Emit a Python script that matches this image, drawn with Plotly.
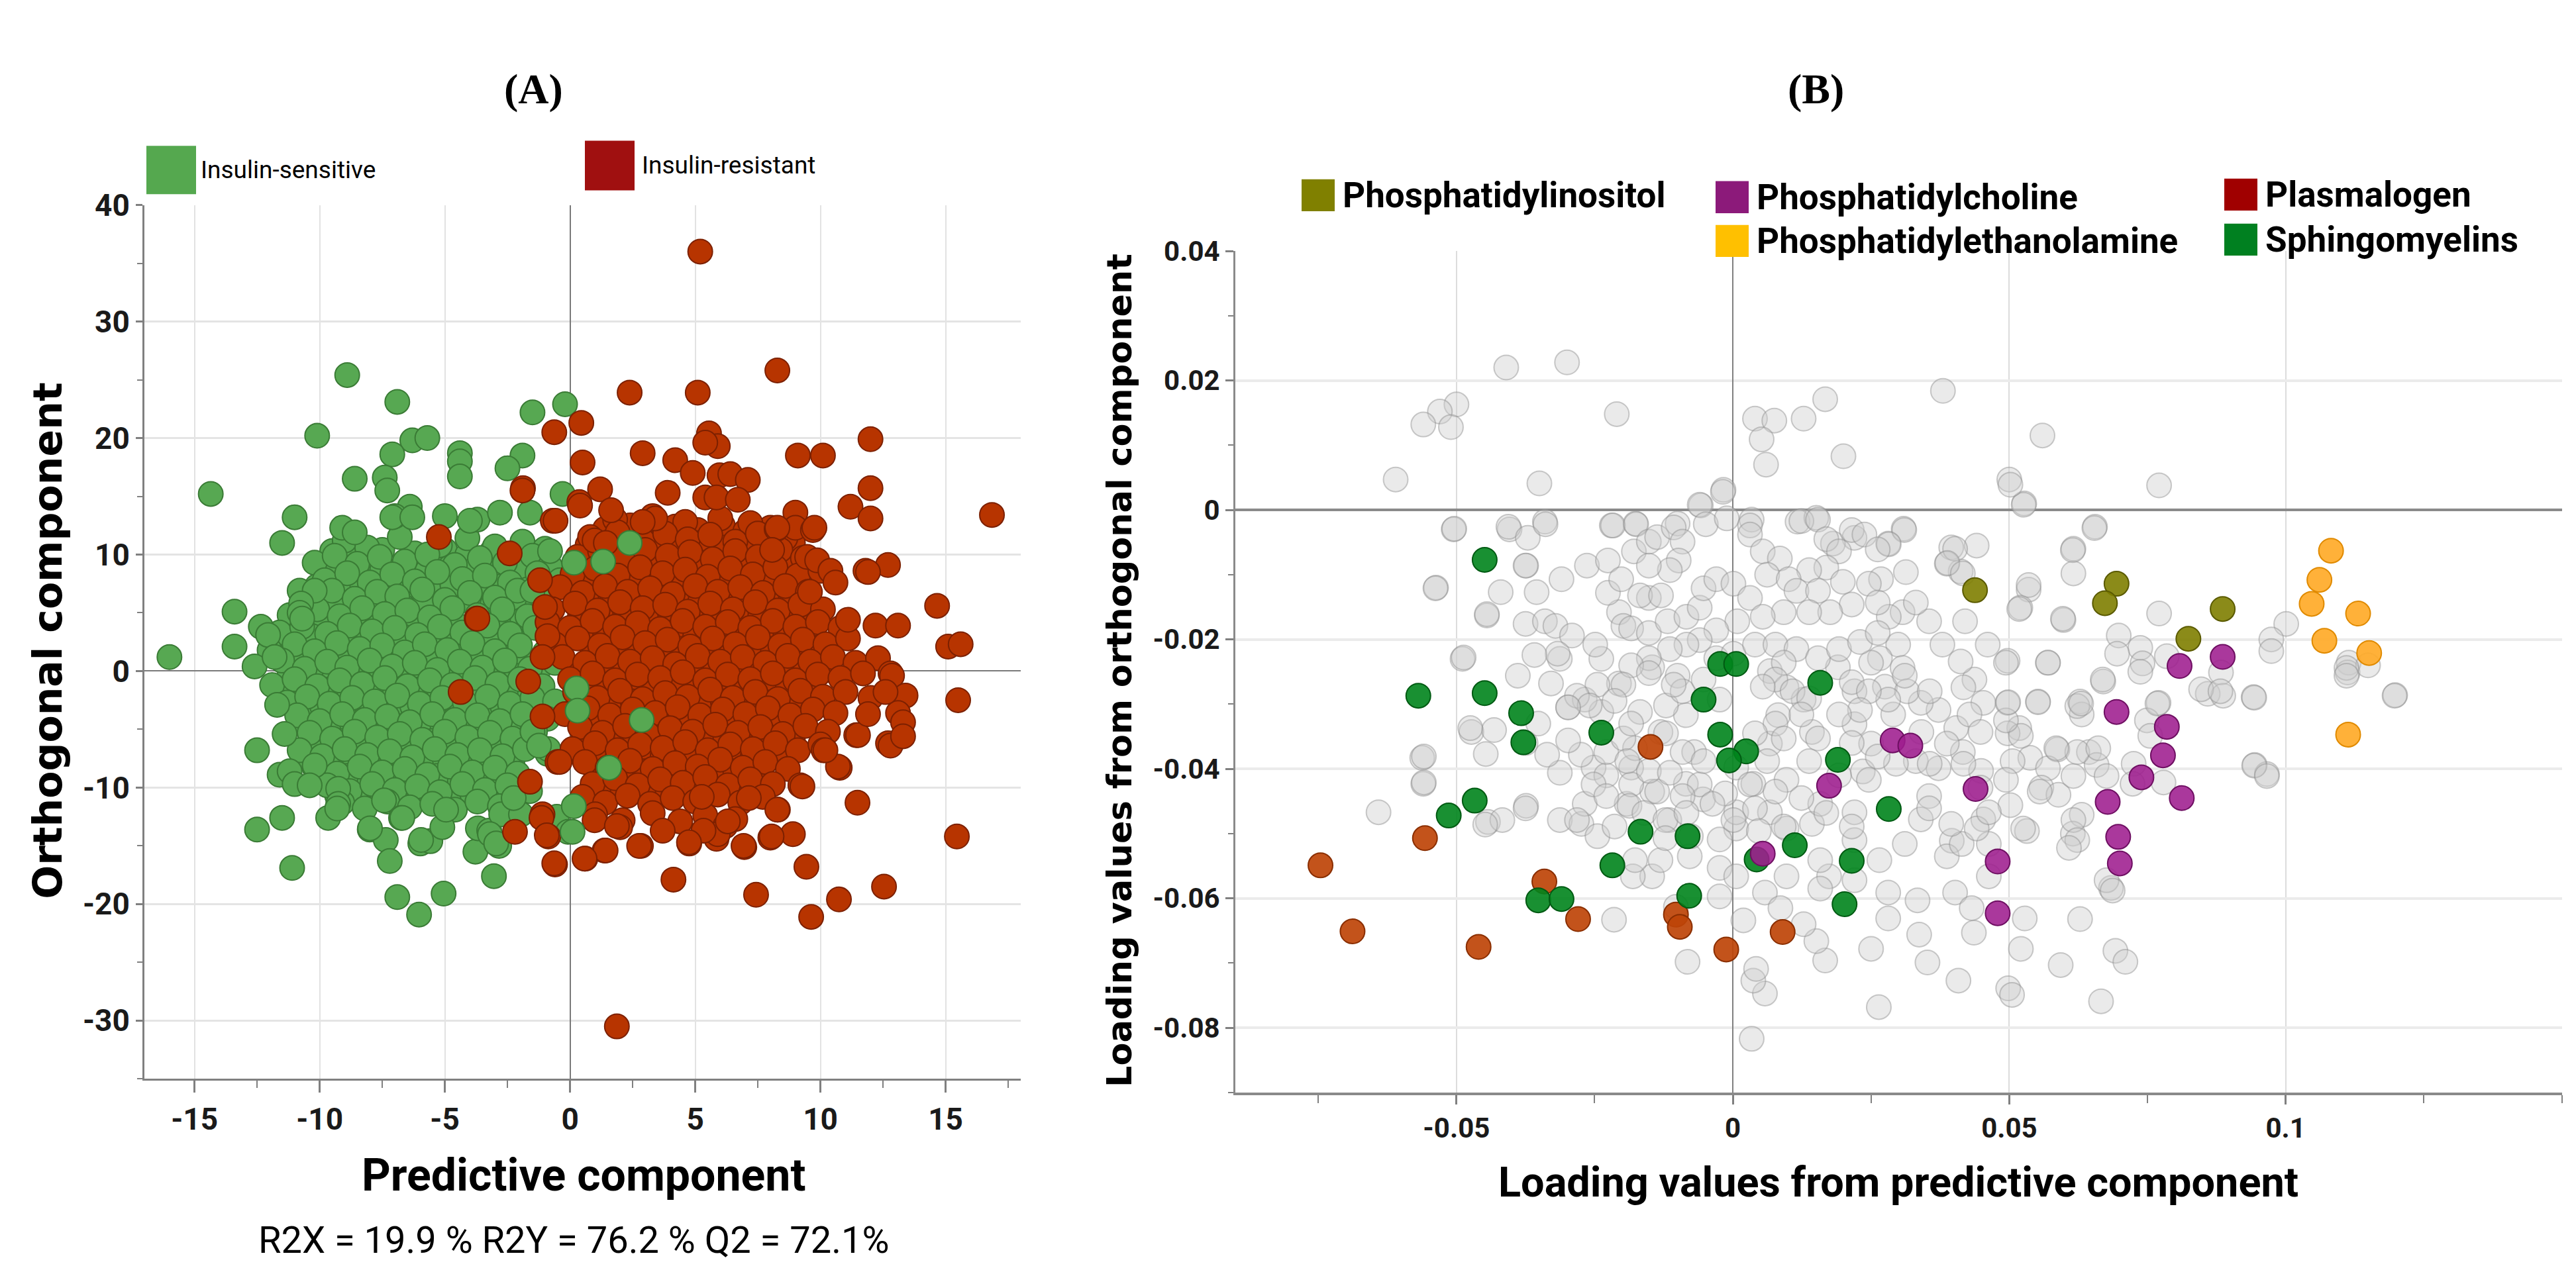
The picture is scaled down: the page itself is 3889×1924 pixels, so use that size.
import plotly.graph_objects as go

W, H = 3889, 1924

# ---------------- Panel A data (score plot) ----------------
sensitive = [
    (-9.0,11.2),(-8.1,10.6),(-6.8,11.5),(-5.2,10.8),(-4.1,11.4),(-3.0,10.7),(-1.9,11.1),(-1.0,10.5),
    (-10.2,9.3),(-9.4,9.9),(-8.5,9.2),(-7.6,9.8),(-6.6,9.4),(-5.7,10.0),(-4.6,9.1),(-3.6,9.7),(-2.6,9.3),(-1.5,9.9),(-0.8,9.0),
    (-9.8,7.8),(-8.9,8.4),(-8.0,7.6),(-7.1,8.3),(-6.2,7.7),(-5.3,8.5),(-4.3,7.9),(-3.4,8.2),(-2.4,7.6),(-1.3,8.4),(-0.4,7.8),
    (-10.6,6.3),(-9.5,6.9),(-8.6,6.2),(-7.7,6.8),(-6.9,6.4),(-5.9,7.0),(-5.0,6.1),(-4.0,6.7),(-3.0,6.3),(-2.1,6.9),(-1.1,6.2),
    (-11.2,4.8),(-10.1,5.3),(-9.2,4.7),(-8.3,5.4),(-7.4,4.9),(-6.5,5.2),(-5.6,4.6),(-4.7,5.4),(-3.7,4.8),(-2.7,5.3),(-1.7,4.7),(-0.8,5.2),
    (-11.6,3.3),(-10.7,3.8),(-9.7,3.2),(-8.8,3.9),(-7.9,3.4),(-7.0,3.7),(-6.1,3.1),(-5.2,3.8),(-4.3,3.3),(-3.3,3.9),(-2.4,3.2),(-1.4,3.7),(-0.5,3.3),
    (-12.0,1.8),(-11.0,2.3),(-10.2,1.7),(-9.3,2.4),(-8.4,1.9),(-7.5,2.2),(-6.6,1.6),(-5.8,2.3),(-4.9,1.8),(-3.9,2.4),(-3.0,1.7),(-2.0,2.2),(-1.0,1.6),
    (-12.6,0.4),(-11.5,0.9),(-10.6,0.2),(-9.7,0.8),(-8.9,0.3),(-8.0,0.9),(-7.1,0.4),(-6.2,0.7),(-5.3,0.1),(-4.4,0.8),(-3.5,0.3),(-2.6,0.9),(-1.6,0.2),(-0.6,0.7),
    (-11.9,-1.2),(-11.0,-0.7),(-10.1,-1.3),(-9.2,-0.8),(-8.3,-1.1),(-7.4,-0.6),(-6.5,-1.3),(-5.6,-0.8),(-4.7,-1.2),(-3.8,-0.6),(-2.9,-1.1),(-2.0,-0.7),(-1.1,-1.3),
    (-11.3,-2.7),(-10.5,-2.2),(-9.6,-2.8),(-8.7,-2.3),(-7.8,-2.6),(-6.9,-2.1),(-6.0,-2.8),(-5.1,-2.3),(-4.2,-2.7),(-3.3,-2.2),(-2.4,-2.8),(-1.5,-2.3),(-0.6,-2.6),
    (-10.9,-3.8),(-10.0,-4.3),(-9.1,-3.7),(-8.2,-4.2),(-7.3,-3.9),(-6.4,-4.4),(-5.5,-3.7),(-4.6,-4.2),(-3.7,-3.8),(-2.8,-4.3),(-1.9,-3.7),(-0.9,-4.1),
    (-10.4,-5.3),(-9.5,-5.8),(-8.6,-5.2),(-7.7,-5.7),(-6.8,-5.4),(-5.9,-5.9),(-5.0,-5.2),(-4.1,-5.7),(-3.2,-5.3),(-2.3,-5.8),(-1.4,-5.2),
    (-10.8,-6.8),(-9.9,-7.3),(-9.0,-6.7),(-8.1,-7.2),(-7.2,-6.9),(-6.3,-7.4),(-5.4,-6.7),(-4.5,-7.2),(-3.6,-6.8),(-2.7,-7.3),(-1.8,-6.7),(-0.9,-7.1),
    (-10.2,-8.3),(-9.3,-8.8),(-8.4,-8.2),(-7.5,-8.7),(-6.6,-8.4),(-5.7,-8.9),(-4.8,-8.2),(-3.9,-8.7),(-3.0,-8.3),(-2.1,-8.8),
    (-9.7,-9.8),(-8.8,-10.3),(-7.9,-9.7),(-7.0,-10.2),(-6.1,-9.9),(-5.2,-10.4),(-4.3,-9.7),(-3.4,-10.2),(-2.5,-9.8),(-1.6,-10.3),
    (-9.1,-11.3),(-8.2,-11.8),(-7.3,-11.2),(-6.4,-11.7),(-5.5,-11.4),(-4.6,-11.9),(-3.7,-11.2),(-2.8,-11.6),
    # outer points
    (-8.9,25.4),(-6.9,23.1),(-10.1,20.2),(-6.3,19.8),(-5.7,20.0),(-1.5,22.2),(-0.2,22.9),(-4.4,18.7),(-4.4,18.0),(-4.4,16.7),
    (-7.1,18.6),(-1.9,18.5),(-2.5,17.4),(-8.6,16.5),(-7.4,16.6),(-7.3,15.5),(-14.35,15.2),(-11.0,13.2),(-11.5,11.0),(-0.3,15.2),
    (-6.4,14.1),(-7.0,13.3),(-7.1,13.2),(-6.3,13.2),(-5.0,13.3),(-3.7,13.0),(-2.8,13.6),(-1.6,13.6),(-9.1,12.3),(-8.6,11.9),
    (-4.0,12.9),(-0.8,10.3),(-1.5,6.9),(-13.4,5.1),(-13.4,2.1),(-12.35,3.8),(-12.06,3.1),(-11.8,1.2),(-16.0,1.2),(-10.8,6.9),
    (-10.2,6.9),(-10.74,5.8),(-10.8,5.0),(-10.7,4.5),
    (-11.7,-2.9),(-11.4,-5.4),(-12.5,-6.8),(-11.6,-8.9),(-11.2,-8.6),(-11.0,-9.7),(-10.2,-8.1),(-10.4,-9.8),(-11.5,-12.6),
    (-12.5,-13.6),(-11.1,-16.9),(-9.66,-12.6),(-9.26,-10.1),(-9.26,-11.4),(-9.3,-11.8),(-8.0,-13.6),(-7.36,-14.5),(-7.2,-16.3),
    (-7.43,-11.1),(-6.75,-12.6),(-6.9,-19.4),(-6.03,-20.9),(-5.05,-19.1),(-5.98,-14.8),(-5.58,-14.6),(-5.1,-13.4),(-4.95,-11.9),
    (-3.78,-15.5),(-3.04,-17.6),(-3.68,-13.5),(-3.23,-13.7),(-2.83,-15.0),(-2.75,-12.3),(-1.96,-12.3),(-2.25,-10.9),(-0.87,-6.7),
    (-1.5,-5.2),(-0.53,-12.5),(-0.08,-13.8),(-1.24,-6.4),(-7.99,-13.5),(-6.7,-12.6),(-5.95,-14.5),(-3.2,-14.0),(-2.95,-14.8),
]
sensitive_inner = [
    (-9.5,10.3),(-8.6,10.0),(-7.5,10.4),(-6.2,10.1),(-5.0,10.4),(-4.1,10.0),(-3.1,10.3),(-2.1,9.9),(-1.2,10.2),
    (-9.3,8.6),(-8.4,9.0),(-7.5,8.7),(-6.6,9.0),(-5.7,8.6),(-4.8,8.9),(-3.9,8.6),(-2.9,9.0),(-1.9,8.7),
    (-10.1,7.3),(-9.2,7.0),(-8.3,7.4),(-7.4,7.1),(-6.5,7.3),(-5.6,7.0),(-4.7,7.4),(-3.7,7.1),(-2.7,7.3),(-1.7,7.0),
    (-10.3,5.6),(-9.4,6.0),(-8.5,5.7),(-7.6,6.0),(-6.7,5.6),(-5.8,5.9),(-4.9,5.6),(-4.0,6.0),(-3.1,5.7),(-2.2,6.0),(-1.3,5.6),
    (-11.0,4.3),(-10.0,4.0),(-9.1,4.4),(-8.2,4.1),(-7.3,4.3),(-6.4,4.0),(-5.5,4.4),(-4.6,4.1),(-3.7,4.3),(-2.8,4.0),(-1.9,4.4),
    (-11.2,2.7),(-10.3,3.0),(-9.4,2.6),(-8.5,2.9),(-7.6,2.7),(-6.7,3.0),(-5.8,2.6),(-4.9,2.9),(-4.0,2.7),(-3.1,3.0),(-2.1,2.6),
    (-11.8,1.3),(-10.9,1.0),(-10.0,1.4),(-9.1,1.1),(-8.2,1.3),(-7.3,1.0),(-6.4,1.4),(-5.5,1.1),(-4.6,1.3),(-3.7,1.0),(-2.8,1.4),(-1.8,1.1),
    (-11.2,-0.3),(-10.3,0.0),(-9.4,-0.4),(-8.5,-0.1),(-7.6,-0.3),(-6.7,0.0),(-5.8,-0.4),(-4.9,-0.1),(-4.0,-0.3),(-3.1,0.0),(-2.2,-0.4),(-1.3,-0.1),
    (-11.5,-1.7),(-10.6,-2.0),(-9.7,-1.6),(-8.8,-1.9),(-7.9,-1.7),(-7.0,-2.0),(-6.1,-1.6),(-5.2,-1.9),(-4.3,-1.7),(-3.4,-2.0),(-2.5,-1.6),(-1.6,-1.9),
    (-10.8,-3.3),(-9.9,-3.0),(-9.0,-3.4),(-8.1,-3.1),(-7.2,-3.3),(-6.3,-3.0),(-5.4,-3.4),(-4.5,-3.1),(-3.6,-3.3),(-2.7,-3.0),(-1.8,-3.4),
    (-10.5,-4.7),(-9.6,-5.0),(-8.7,-4.6),(-7.8,-4.9),(-6.9,-4.7),(-6.0,-5.0),(-5.1,-4.6),(-4.2,-4.9),(-3.3,-4.7),(-2.4,-5.0),(-1.5,-4.6),
    (-10.0,-6.3),(-9.1,-6.0),(-8.2,-6.4),(-7.3,-6.1),(-6.4,-6.3),(-5.5,-6.0),(-4.6,-6.4),(-3.7,-6.1),(-2.8,-6.3),(-1.9,-6.0),
    (-10.4,-7.7),(-9.5,-8.0),(-8.6,-7.6),(-7.7,-7.9),(-6.8,-7.7),(-5.9,-8.0),(-5.0,-7.6),(-4.1,-7.9),(-3.2,-7.7),(-2.3,-8.0),
    (-9.8,-9.3),(-8.9,-9.0),(-8.0,-9.4),(-7.1,-9.1),(-6.2,-9.3),(-5.3,-9.0),(-4.4,-9.4),(-3.5,-9.1),(-2.6,-9.3),
    (-9.3,-10.7),(-8.4,-11.0),(-7.5,-10.6),(-6.6,-10.9),(-5.7,-10.7),(-4.8,-11.0),(-3.9,-10.6),(-3.0,-10.9),(-2.1,-10.7),
]
sensitive_top = [(2.38,11.0),(1.32,9.4),(0.16,9.3),(2.86,-4.2),(1.56,-8.3),(0.26,-1.5),(0.3,-3.4),(0.1,-13.8),(0.15,-11.6)]

resistant = [
    (1.8,13.0),(3.3,13.3),(4.6,12.8),(6.0,13.1),(7.2,12.7),
    (0.8,11.5),(1.9,11.9),(2.9,11.2),(3.8,11.8),(4.7,11.3),(5.6,11.7),(6.6,11.1),(7.5,11.8),(8.6,11.4),
    (0.3,9.8),(1.2,10.3),(2.1,9.7),(3.0,10.4),(3.9,9.9),(4.8,10.2),(5.7,9.6),(6.6,10.3),(7.5,9.8),(8.4,10.4),(9.3,9.7),
    (0.1,8.3),(1.0,8.8),(1.9,8.2),(2.8,8.9),(3.7,8.4),(4.6,8.7),(5.5,8.1),(6.4,8.8),(7.3,8.3),(8.2,8.9),(9.1,8.2),(10.0,8.6),
    (-0.4,7.2),(0.5,6.7),(1.4,7.3),(2.3,6.8),(3.2,7.1),(4.1,6.6),(5.0,7.3),(5.9,6.8),(6.8,7.2),(7.7,6.7),(8.6,7.3),(9.5,6.8),
    (-0.7,5.3),(0.2,5.8),(1.1,5.2),(2.0,5.9),(2.9,5.4),(3.8,5.7),(4.7,5.1),(5.6,5.8),(6.5,5.3),(7.4,5.9),(8.3,5.2),(9.2,5.7),(10.1,5.3),
    (-0.9,4.2),(0.0,3.7),(0.9,4.3),(1.8,3.8),(2.7,4.1),(3.6,3.6),(4.5,4.3),(5.4,3.8),(6.3,4.2),(7.2,3.7),(8.1,4.3),(9.0,3.8),(9.9,4.2),(10.8,3.7),
    (-0.6,2.3),(0.3,2.8),(1.2,2.2),(2.1,2.9),(3.0,2.4),(3.9,2.7),(4.8,2.1),(5.7,2.8),(6.6,2.3),(7.5,2.9),(8.4,2.2),(9.3,2.7),(10.2,2.3),(11.1,2.8),
    (-0.3,1.2),(0.6,0.7),(1.5,1.3),(2.4,0.8),(3.3,1.1),(4.2,0.6),(5.1,1.3),(6.0,0.8),(6.9,1.2),(7.8,0.7),(8.7,1.3),(9.6,0.8),(10.5,1.2),(11.4,0.7),(12.3,1.1),
    (0.0,-0.7),(0.9,-0.2),(1.8,-0.8),(2.7,-0.3),(3.6,-0.6),(4.5,-0.1),(5.4,-0.8),(6.3,-0.3),(7.2,-0.7),(8.1,-0.2),(9.0,-0.8),(9.9,-0.3),(10.8,-0.6),(11.7,-0.2),
    (0.2,-1.8),(1.1,-2.3),(2.0,-1.7),(2.9,-2.4),(3.8,-1.9),(4.7,-2.2),(5.6,-1.6),(6.5,-2.3),(7.4,-1.8),(8.3,-2.4),(9.2,-1.7),(10.1,-2.2),(11.0,-1.8),(12.0,-2.3),
    (-0.2,-3.7),(0.7,-3.2),(1.6,-3.8),(2.5,-3.3),(3.4,-3.6),(4.3,-3.1),(5.2,-3.8),(6.1,-3.3),(7.0,-3.7),(7.9,-3.2),(8.8,-3.8),(9.7,-3.3),(10.6,-3.6),
    (0.4,-4.8),(1.3,-5.3),(2.2,-4.7),(3.1,-5.4),(4.0,-4.9),(4.9,-5.2),(5.8,-4.6),(6.7,-5.3),(7.6,-4.8),(8.5,-5.4),(9.4,-4.7),(10.3,-5.2),
    (0.1,-6.7),(1.0,-6.2),(1.9,-6.8),(2.8,-6.3),(3.7,-6.6),(4.6,-6.1),(5.5,-6.8),(6.4,-6.3),(7.3,-6.7),(8.2,-6.2),(9.1,-6.8),(10.0,-6.3),
    (0.6,-7.8),(1.5,-8.3),(2.4,-7.7),(3.3,-8.4),(4.2,-7.9),(5.1,-8.2),(6.0,-7.6),(6.9,-8.3),(7.8,-7.8),(8.7,-8.4),
    (0.9,-9.7),(1.8,-9.2),(2.7,-9.8),(3.6,-9.3),(4.5,-9.6),(5.4,-9.1),(6.3,-9.8),(7.2,-9.3),(8.1,-9.7),
    (0.5,-10.8),(1.4,-11.3),(2.3,-10.7),(3.2,-11.4),(4.1,-10.9),(5.0,-11.2),(5.9,-10.6),(6.8,-11.3),(7.7,-10.8),
    (1.0,-12.3),(2.1,-12.8),(3.3,-12.2),(4.4,-12.9),(5.4,-12.4),(6.6,-12.7),
    # outer points
    (5.2,36.0),(8.28,25.8),(2.38,23.9),(5.1,23.9),(-0.63,20.5),(0.45,21.3),(5.55,20.4),(5.9,19.3),(5.4,19.6),(12.0,19.9),
    (2.9,18.7),(9.1,18.5),(10.1,18.5),(4.2,18.1),(0.5,17.9),(4.9,17.0),(5.97,16.8),(6.4,16.9),(7.1,16.4),(12.0,15.7),
    (1.2,15.6),(3.9,15.3),(-1.88,15.7),(-1.9,15.5),(0.37,14.5),(1.64,13.8),(5.4,14.9),(5.85,14.9),(6.7,14.7),(0.4,14.2),
    (11.2,14.1),(12.0,13.1),(16.85,13.4),(-0.69,12.9),(-0.58,12.9),(9.0,13.6),(9.0,12.3),(9.7,12.1),(8.25,12.2),(9.76,12.3),
    (8.28,12.3),(3.4,13.1),(2.9,12.8),(0.98,11.2),(1.43,11.0),(8.07,10.4),(9.47,9.8),(9.87,9.5),(10.4,8.6),(10.6,7.6),
    (11.8,8.6),(12.7,9.1),(11.9,8.5),(9.58,6.8),(14.66,5.6),(15.1,2.1),(15.6,2.3),(11.1,4.4),(12.2,3.9),(13.1,3.9),
    (12.8,-0.2),(12.86,-0.4),(13.4,-2.1),(15.5,-2.5),(13.1,-3.6),(13.3,-4.4),(12.6,-1.8),(12.7,-6.2),(12.8,-6.4),(13.3,-5.6),
    (11.43,-5.5),(11.5,-5.5),(11.9,-3.7),(10.77,-8.3),(10.13,-6.8),(10.7,-8.2),(10.2,-6.8),(9.2,-9.8),(9.28,-9.9),(11.48,-11.3),
    (8.3,-11.9),(8.28,-11.9),(8.9,-14.0),(8.0,-14.3),(8.05,-14.2),(6.96,-15.1),(6.93,-15.0),(9.44,-16.8),(15.45,-14.2),(12.54,-18.5),
    (10.74,-19.6),(9.63,-21.1),(7.43,-19.2),(4.13,-17.9),(4.76,-14.8),(2.83,-15.0),(5.85,-14.4),(0.61,-16.1),(1.38,-15.4),(2.0,-13.4),
    (0.98,-12.8),(3.7,-13.7),(5.26,-10.8),(7.14,-10.9),(6.2,-13.3),(5.9,-14.0),(6.3,-12.9),(5.33,-13.7),(1.87,-13.3),(2.76,-15.0),
    (4.75,-14.7),(1.42,-15.4),(0.58,-16.1),(-0.6,-16.6),(1.87,-30.5),
    (-5.24,11.5),(-2.41,10.1),(-3.73,4.5),(-3.7,4.5),(-4.37,-1.8),(-1.67,-0.9),(-1.6,-9.5),(-1.1,-3.9),(-2.2,-13.8),(-1.1,-12.3),
    (-0.87,-14.2),(-1.14,-12.6),(-0.5,-7.8),(-0.42,-7.8),(-0.63,-16.5),(-0.93,-14.1),(-1.2,7.8),(-1.0,5.5),(-0.9,3.0),(-1.1,1.2),
]
resistant_inner = [
    (1.4,12.2),(2.4,12.5),(3.4,12.0),(4.2,12.4),(5.1,12.1),(6.1,12.5),(7.0,12.0),(8.0,12.3),
    (0.7,10.8),(1.6,11.1),(2.5,10.6),(3.4,11.0),(4.3,10.7),(5.2,11.0),(6.1,10.6),(7.0,11.0),(7.9,10.7),(8.9,11.0),
    (0.6,9.2),(1.5,9.5),(2.4,9.0),(3.3,9.4),(4.2,9.1),(5.1,9.4),(6.0,9.0),(6.9,9.4),(7.8,9.1),(8.7,9.4),(9.6,9.0),
    (1.0,7.8),(1.8,7.5),(2.7,7.9),(3.6,7.6),(4.5,7.8),(5.4,7.5),(6.3,7.9),(7.2,7.6),(8.1,7.8),(9.0,7.5),
    (0.7,6.2),(1.6,6.0),(2.5,6.4),(3.4,6.1),(4.3,6.3),(5.2,6.0),(6.1,6.4),(7.0,6.1),(7.9,6.3),(8.8,6.0),
    (0.4,4.8),(1.3,4.5),(2.2,4.9),(3.1,4.6),(4.0,4.8),(4.9,4.5),(5.8,4.9),(6.7,4.6),(7.6,4.8),(8.5,4.5),(9.4,4.9),
    (0.5,3.2),(1.4,3.0),(2.3,3.4),(3.2,3.1),(4.1,3.3),(5.0,3.0),(5.9,3.4),(6.8,3.1),(7.7,3.3),(8.6,3.0),(9.5,3.4),
    (0.9,1.8),(1.8,1.6),(2.7,2.0),(3.6,1.7),(4.5,1.9),(5.4,1.6),(6.3,2.0),(7.2,1.7),(8.1,1.9),(9.0,1.6),(9.9,2.0),
    (0.4,0.2),(1.3,0.0),(2.2,0.4),(3.1,0.1),(4.0,0.3),(4.9,0.0),(5.8,0.4),(6.7,0.1),(7.6,0.3),(8.5,0.0),(9.4,0.4),(10.3,0.1),
    (0.6,-1.2),(1.5,-1.4),(2.4,-1.0),(3.3,-1.3),(4.2,-1.1),(5.1,-1.4),(6.0,-1.0),(6.9,-1.3),(7.8,-1.1),(8.7,-1.4),(9.6,-1.0),
    (0.7,-2.8),(1.6,-3.0),(2.5,-2.6),(3.4,-2.9),(4.3,-2.7),(5.2,-3.0),(6.1,-2.6),(7.0,-2.9),(7.9,-2.7),(8.8,-3.0),
    (0.9,-4.2),(1.8,-4.4),(2.7,-4.0),(3.6,-4.3),(4.5,-4.1),(5.4,-4.4),(6.3,-4.0),(7.2,-4.3),(8.1,-4.1),(9.0,-4.4),
    (0.8,-5.8),(1.7,-6.0),(2.6,-5.6),(3.5,-5.9),(4.4,-5.7),(5.3,-6.0),(6.2,-5.6),(7.1,-5.9),(8.0,-5.7),(8.9,-6.0),
    (1.0,-7.2),(1.9,-7.4),(2.8,-7.0),(3.7,-7.3),(4.6,-7.1),(5.5,-7.4),(6.4,-7.0),(7.3,-7.3),(8.2,-7.1),
    (1.2,-8.8),(2.1,-9.0),(3.0,-8.6),(3.9,-8.9),(4.8,-8.7),(5.7,-9.0),(6.6,-8.6),(7.5,-8.9),
    (1.2,-10.2),(2.1,-10.4),(3.0,-10.0),(3.9,-10.3),(4.8,-10.1),(5.7,-10.4),(6.6,-10.0),
]

# ---------------- Panel B data (loading plot) ----------------
other_lipids = [
    (-0.041,0.0220),(-0.030,0.0228),(-0.050,0.0163),(-0.053,0.0152),(-0.056,0.0132),(-0.051,0.0128),(-0.021,0.0148),(-0.061,0.0047),
    (-0.035,0.0041),(0.004,0.0141),(0.0075,0.0138),(0.0128,0.0141),(0.0167,0.0171),(0.0052,0.0109),(0.006,0.0070),(0.020,0.0083),
    (0.038,0.0184),(0.056,0.0115),(0.050,0.0047),(0.0527,0.0010),(0.0771,0.0038),(-0.0017,0.0031),(-0.0058,0.0007),(0.0655,-0.0026),
    (0.0616,-0.0060),(0.0616,-0.0098),(-0.0505,-0.0030),(-0.0537,-0.0120),(-0.0404,-0.0030),(-0.034,-0.0018),(-0.0374,-0.0086),
    (-0.0445,-0.0163),(-0.0219,-0.0024),(-0.0176,-0.0021),(-0.010,-0.0021),(0.0034,-0.0015),(0.0117,-0.0018),(0.0151,-0.0012),
    (0.0309,-0.0029),(0.022,-0.0043),(0.0181,-0.0052),(0.0281,-0.0052),(0.0441,-0.0055),(0.0395,-0.0058),(0.0412,-0.0095),
    (0.0387,-0.0083),(0.0535,-0.0123),(0.052,-0.0151),(0.0598,-0.0170),(0.0771,-0.0160),(0.1001,-0.0176),(0.0974,-0.0200),
    (0.0698,-0.0194),(0.0737,-0.0213),
    (0.031,-0.0031),(0.0282,-0.0053),(0.0402,-0.0060),(0.0388,-0.0082),(0.0313,-0.0096),(0.0416,-0.0098),(0.0268,-0.0107),
    (0.0615,-0.0062),(0.0654,-0.0028),(0.0526,0.0008),(0.0502,0.0039),(0.0535,-0.0116),(0.0518,-0.0153),(0.0597,-0.0168),
    (0.0695,-0.0222),(0.0741,-0.0237),(0.0785,-0.0226),(0.057,-0.0236),(0.0497,-0.0233),(0.1114,-0.0236),(0.1112,-0.0251),
    (0.1149,-0.0240),(0.1198,-0.0286),(0.067,-0.0265),(0.0883,-0.0251),(0.0859,-0.0284),(0.0887,-0.0287),(0.0942,-0.0289),
    (0.0552,-0.0296),(0.0628,-0.0296),(0.077,-0.0298),(0.0749,-0.0325),(0.0631,-0.0316),(0.0497,-0.0298),(0.0453,-0.0298),
    (0.0518,-0.0337),(0.0497,-0.0345),(0.0587,-0.0370),(0.0644,-0.0374),(0.0658,-0.0394),(0.0538,-0.0383),(0.057,-0.0399),
    (0.0506,-0.0388),(0.0725,-0.0392),(0.0779,-0.0421),(0.0944,-0.0394),(0.0966,-0.0408),(0.0558,-0.0429),(0.0589,-0.0440),
    (0.0502,-0.0456),(0.0631,-0.0471),(0.0615,-0.0500),(0.0532,-0.0496),(0.0453,-0.0478),(0.0396,-0.0511),(0.034,-0.0478),
    (0.0355,-0.0442),(0.0372,-0.0399),(0.0331,-0.0388),(0.0416,-0.0374),(0.0449,-0.0403),(0.0404,-0.0337),(0.0428,-0.0316),
    (0.0372,-0.0309),(0.034,-0.0298),(0.0437,-0.0262),(0.0412,-0.0234),(0.0461,-0.0208),(0.0379,-0.0208),(0.0355,-0.0172),
    (0.042,-0.0172),(0.0307,-0.0158),(0.0282,-0.0165),(0.0331,-0.0143),(0.0299,-0.0208),(0.0266,-0.0229),(0.0307,-0.0244),
    (0.0275,-0.0273),(0.0315,-0.0280),(0.029,-0.0316),
    (0.0034,-0.0817),(0.0264,-0.0768),(0.0058,-0.0747),(0.0037,-0.0727),(0.0042,-0.0709),(-0.0082,-0.0698),(0.0167,-0.0696),
    (0.0352,-0.0699),(0.0408,-0.0727),(0.0498,-0.0739),(0.0505,-0.0749),(0.0593,-0.0703),(0.0666,-0.0759),(0.0692,-0.0681),
    (0.071,-0.0698),(0.0521,-0.0678),(0.025,-0.0678),(0.0337,-0.0656),(0.0628,-0.0632),(0.0684,-0.0584),(0.0528,-0.0631),
    (0.0436,-0.0653),(0.0281,-0.0631),(0.0151,-0.0666),(0.0128,-0.0640),(0.0019,-0.0634),(0.0058,-0.0591),(0.0086,-0.0615),
    (-0.0215,-0.0633),(-0.0024,-0.0597),(-0.0103,-0.0613),(-0.0146,-0.0566),(-0.0181,-0.0566),(-0.0024,-0.0553),(-0.0078,-0.0535),
    (-0.0131,-0.0541),(0.0174,-0.0566),(0.0158,-0.0585),(0.022,-0.0572),(0.0281,-0.0591),(0.0334,-0.0603),(0.0402,-0.0591),
    (0.0432,-0.0615),(0.0463,-0.0566),(0.0387,-0.0535),(0.0414,-0.0516),(0.0463,-0.0516),(0.0441,-0.0492),(0.0395,-0.0485),
    (0.0311,-0.0516),(0.0265,-0.0541),(0.022,-0.0510),(0.0158,-0.0541),(0.0097,-0.0566),(0.0006,-0.0566),(0.0097,-0.0492),
    (0.0006,-0.0492),(0.0143,-0.0485),(0.022,-0.0467),(0.0355,-0.0461),(0.0463,-0.0467),(0.0525,-0.0492),(0.0616,-0.0479),
    (0.0623,-0.0510),(0.0608,-0.0522),(0.0676,-0.0572),(0.0687,-0.0588),(0.0555,-0.0435),(0.0494,-0.0417),(0.0616,-0.0411),
    (0.0676,-0.0411),(0.0723,-0.0423),(0.0623,-0.0374),(0.0661,-0.0368),(0.0585,-0.0368),(0.0521,-0.0349),(0.0494,-0.0325),
    (0.0552,-0.0297),(0.0498,-0.0297),(0.0623,-0.0303),(0.0669,-0.0262),(0.0737,-0.0250),(0.0847,-0.0277),(0.0943,-0.0290),
    (0.1197,-0.0287),(0.111,-0.0244),(0.111,-0.0256),(0.0943,-0.0395),(0.0966,-0.0411),(0.0882,-0.0280),(0.0768,-0.0299),
    (0.0974,-0.0218),(0.0755,-0.0349),(0.063,-0.0299),(0.057,-0.0236),(0.0494,-0.0236),
    (-0.0489,-0.0230),(-0.0562,-0.0383),(-0.056,-0.0423),(-0.0641,-0.0467),(-0.0473,-0.0343),(-0.0432,-0.0340),(-0.0447,-0.0377),
    (-0.0443,-0.0482),(-0.0417,-0.0479),(-0.0374,-0.0457),(-0.0313,-0.0479),(-0.0274,-0.0485),(-0.0298,-0.0305),(-0.0238,-0.0312),
    (-0.0252,-0.0398),(-0.0268,-0.0454),(-0.0184,-0.0398),(-0.0146,-0.0435),(-0.0192,-0.0454),(-0.0085,-0.0423),(-0.0054,-0.0447),
    (-0.0115,-0.0479),(-0.0024,-0.0509),(-0.0177,-0.0541),(0.0006,-0.0467),(0.0067,-0.0467),(0.0037,-0.0423),(0.0097,-0.0417),
    (0.0158,-0.0454),(0.0235,-0.0404),(0.0295,-0.0392),(0.0356,-0.0392),(0.0417,-0.0392),(0.0448,-0.0429),(0.0387,-0.0361),
    (0.0448,-0.0343),(0.0341,-0.0343),(0.025,-0.0361),(0.022,-0.0331),(0.0143,-0.0343),(0.0067,-0.0361),(0.0082,-0.0317),
    (0.0128,-0.0293),(0.022,-0.0280),(0.0281,-0.0293),(0.0356,-0.0280),(0.0417,-0.0274),(0.0311,-0.0256),(0.025,-0.0236),
    (0.019,-0.0243),(0.0067,-0.0249),(0.0097,-0.0274),(-0.010,-0.0256),(-0.0146,-0.0243),(-0.0206,-0.0268),(-0.0268,-0.0293),
    (-0.0329,-0.0268),(-0.0389,-0.0256),(-0.0313,-0.0230),(-0.0238,-0.0230),(-0.0024,-0.0293),(-0.0085,-0.0317),(-0.0131,-0.0343),
    (-0.0177,-0.0368),(-0.0070,-0.0374),(0.0006,-0.0398),
    (-0.0504,-0.0029),(-0.0406,-0.0026),(-0.0371,-0.0043),(-0.0339,-0.0022),(-0.0538,-0.0121),(-0.0375,-0.0086),(-0.031,-0.0107),
    (-0.042,-0.0127),(-0.0355,-0.0127),(-0.0445,-0.0161),(-0.0375,-0.0176),(-0.034,-0.0172),(-0.0321,-0.0179),(-0.0291,-0.0194),
    (-0.0249,-0.0208),(-0.0317,-0.0222),(-0.0359,-0.0224),(-0.0487,-0.0228),(-0.0264,-0.0086),(-0.0226,-0.0078),(-0.0217,-0.0024),
    (-0.0175,-0.0022),(-0.0206,-0.0158),(-0.0198,-0.0179),(-0.0184,-0.0183),(-0.0152,-0.0190),(-0.0152,-0.0136),(-0.0168,-0.0132),
    (-0.013,-0.0132),(-0.0226,-0.0128),(-0.0202,-0.0107),(-0.0179,-0.0064),(-0.0152,-0.0049),(-0.0137,-0.0042),(-0.0107,-0.0027),
    (-0.0091,-0.0049),(-0.0098,-0.0078),(-0.0114,-0.0093),(-0.0152,-0.0086),(-0.0118,-0.0172),(-0.0084,-0.0165),(-0.006,-0.0151),
    (-0.0053,-0.0121),(-0.003,-0.0107),(0.0001,-0.0114),(0.0031,-0.0136),(-0.006,0.0008),(-0.0018,0.0028),(-0.0049,-0.0022),
    (-0.0011,-0.0013),(0.0031,-0.0024),(0.0031,-0.0038),(0.0054,-0.0064),(0.0085,-0.0075),(0.0062,-0.0100),(0.0124,-0.0017),
    (0.0154,-0.0015),(0.0169,-0.0045),(0.0192,-0.0064),(0.0215,-0.0031),(0.0238,-0.0038),(0.0262,-0.0061),(0.0169,-0.0089),
    (0.0138,-0.0093),(0.0101,-0.0107),(0.0115,-0.0125),(0.0154,-0.0125),(0.0199,-0.0111),(0.0246,-0.0114),(0.0262,-0.0143),
    (0.0215,-0.0146),(0.0176,-0.0158),(0.0138,-0.0158),(0.0092,-0.0158),(0.0054,-0.0165),(0.0008,-0.0172),(-0.003,-0.0186),
    (-0.006,-0.0201),(-0.0084,-0.0208),(-0.0114,-0.0215),(-0.0152,-0.0229),(-0.0184,-0.0240),(-0.0152,-0.0252),(-0.0198,-0.0270),
    (-0.0245,-0.0270),(-0.0282,-0.0287),(-0.0259,-0.0302),(-0.0298,-0.0305),(-0.0214,-0.0295),(-0.0168,-0.0312),(-0.0121,-0.0302),
    (-0.0091,-0.0280),(-0.0107,-0.0270),(-0.0053,-0.0262),(-0.003,-0.0229),(0.0001,-0.0222),(0.004,-0.0208),(0.0077,-0.0208),
    (0.0115,-0.0215),(0.0154,-0.0229),(0.0192,-0.0215),(0.023,-0.0204),(0.0262,-0.0190),(0.0092,-0.0236),(0.0077,-0.0262),
    (0.0054,-0.0273),(0.0108,-0.0280),(0.0138,-0.0291),(0.0215,-0.0266),(0.0246,-0.0280),(0.023,-0.0309),(0.0192,-0.0316),
    (0.0124,-0.0316),(0.0077,-0.0330),(0.004,-0.0345),(0.0092,-0.0353),(0.0154,-0.0353),(0.0215,-0.0360),(0.0262,-0.0381),
    (0.0246,-0.0417),(0.0192,-0.0410),(0.0138,-0.0388),(0.0062,-0.0388),(0.0031,-0.0424),(0.0077,-0.0435),(0.0124,-0.0445),
    (0.0169,-0.0468),(0.0215,-0.0489),(0.004,-0.0461),(-0.0014,-0.0438),(-0.006,-0.0424),(-0.0091,-0.0442),(-0.0137,-0.0435),
    (-0.0184,-0.0424),(-0.0229,-0.0410),(-0.0252,-0.0424),(-0.0313,-0.0406),(-0.0336,-0.0378),(-0.0275,-0.0378),(-0.0229,-0.0374),
    (-0.0198,-0.0353),(-0.0184,-0.0330),(-0.0121,-0.0345),(-0.0091,-0.0374),(-0.0053,-0.0388),(-0.0282,-0.0479),(-0.0375,-0.0461),
    (-0.0448,-0.0486),(-0.0559,-0.0381),(-0.0559,-0.0421),(-0.0475,-0.0337),(-0.0375,-0.0360),(-0.0298,-0.0356),(-0.0352,-0.0330),
    (-0.0191,-0.0388),(-0.0152,-0.0403),(-0.0114,-0.0406),(-0.0229,-0.0442),(-0.0187,-0.0457),(-0.016,-0.0468),(-0.0122,-0.0479),
    (-0.0084,-0.0468),(-0.0037,-0.0454),(0.0001,-0.0479),(0.0047,-0.0496),(0.0092,-0.0489),(-0.0076,-0.0504),(-0.0122,-0.0507),
    (-0.0245,-0.0504),(-0.0214,-0.0489),
]
phosphatidylinositol = [(0.0438,-0.0124),(0.0694,-0.0114),(0.0673,-0.0144),(0.0886,-0.0153),(0.0824,-0.0199)]
phosphatidylcholine = [
    (0.0808,-0.0241),(0.0886,-0.0227),(0.0694,-0.0312),(0.0785,-0.0335),(0.0778,-0.0379),(0.0739,-0.0413),
    (0.0812,-0.0445),(0.0678,-0.0451),(0.0697,-0.0505),(0.0700,-0.0546),(0.0289,-0.0356),(0.0321,-0.0364),
    (0.0439,-0.0431),(0.0174,-0.0426),(0.0479,-0.0543),(0.0054,-0.0531),(0.0479,-0.0623),
]
plasmalogen = [
    (-0.0149,-0.0366),(-0.0557,-0.0507),(-0.0746,-0.0549),(-0.0341,-0.0574),(-0.0280,-0.0632),(-0.0688,-0.0651),
    (-0.0460,-0.0675),(-0.0103,-0.0625),(-0.0096,-0.0644),(0.0090,-0.0652),(-0.0012,-0.0679),
]
phosphatidylethanolamine = [(0.1082,-0.0063),(0.1061,-0.0108),(0.1047,-0.0145),(0.1131,-0.0160),(0.1070,-0.0202),(0.1151,-0.0221),(0.1113,-0.0347)]
sphingomyelins = [
    (-0.0449,-0.0077),(-0.0569,-0.0287),(-0.0449,-0.0283),(-0.0383,-0.0314),(-0.0379,-0.0359),(-0.0238,-0.0344),
    (-0.0023,-0.0238),(0.0006,-0.0238),(0.0158,-0.0267),(-0.0053,-0.0293),(-0.0023,-0.0347),(0.0024,-0.0373),
    (-0.0007,-0.0387),(0.0190,-0.0386),(-0.0467,-0.0449),(-0.0514,-0.0472),(0.0282,-0.0462),(-0.0167,-0.0497),
    (-0.0082,-0.0504),(0.0112,-0.0518),(0.0043,-0.0540),(0.0215,-0.0542),(-0.0218,-0.0549),(-0.0079,-0.0596),
    (-0.0352,-0.0603),(-0.0310,-0.0601),(0.0202,-0.0609),
]

# tick values / labels
a_xticks = [-15, -10, -5, 0, 5, 10, 15]
a_xlabels = ["-15", "-10", "-5", "0", "5", "10", "15"]
a_yticks = [-30, -20, -10, 0, 10, 20, 30, 40]
a_ylabels = ["-30", "-20", "-10", "0", "10", "20", "30", "40"]
b_xticks = [-0.05, 0, 0.05, 0.1]
b_xlabels = ["-0.05", "0", "0.05", "0.1"]
b_yticks = [-0.08, -0.06, -0.04, -0.02, 0, 0.02, 0.04]
b_ylabels = ["-0.08", "-0.06", "-0.04", "-0.02", "0", "0.02", "0.04"]


def xs(p):
    return [a for a, b in p]


def ys(p):
    return [b for a, b in p]


def px(x):
    return x / W


def py(y):
    return 1 - y / H


fig = go.Figure()
MS = 37

def add(points, fill, edge, xa, ya, width=2):
    fig.add_trace(go.Scatter(
        x=xs(points), y=ys(points), mode="markers", xaxis=xa, yaxis=ya,
        marker=dict(size=MS, color=fill, line=dict(color=edge, width=width)),
        showlegend=False, hoverinfo="skip"))

# Panel A
add(sensitive_inner + sensitive, "#57a852", "#3a7b35", "x", "y")
add(resistant_inner + resistant, "#b73400", "#7c2000", "x", "y")
add(sensitive_top, "#57a852", "#3a7b35", "x", "y")

# Panel B
add(other_lipids, "rgba(205,205,205,0.42)", "rgba(140,140,140,0.45)", "x2", "y2")
add(plasmalogen, "rgba(190,68,8,0.92)", "#8a2e00", "x2", "y2")
add(sphingomyelins, "rgba(0,132,28,0.9)", "#005a12", "x2", "y2")
add(phosphatidylcholine, "rgba(158,28,142,0.88)", "#6e0f62", "x2", "y2")
add(phosphatidylinositol, "rgba(126,126,0,0.9)", "#5a5a00", "x2", "y2")
add(phosphatidylethanolamine, "rgba(255,170,40,0.92)", "#e08a00", "x2", "y2")

tickfontA = dict(family="Roboto", size=46, color="#1a1a1a", weight=700)
tickfontB = dict(family="Roboto", size=42, color="#1a1a1a", weight=700)

fig.update_layout(
    width=W, height=H, margin=dict(l=0, r=0, t=0, b=0),
    paper_bgcolor="white", plot_bgcolor="white",
    xaxis=dict(domain=[px(210), px(1533)], range=[-17, 18], tickmode="array",
               tickvals=a_xticks, ticktext=a_xlabels, tickfont=tickfontA,
               ticks="outside", ticklen=18, tickwidth=3, tickcolor="#808080",
               showline=True, linecolor="#808080", linewidth=3,
               showgrid=True, gridcolor="#e2e2e2", gridwidth=2,
               zeroline=True, zerolinecolor="#7a7a7a", zerolinewidth=2,
               minor=dict(tick0=0, dtick=2.5, ticks="outside", ticklen=11, tickwidth=2,
                          tickcolor="#808080", showgrid=False),
               anchor="y", fixedrange=True),
    yaxis=dict(domain=[py(1617), py(278.5)], range=[-35, 40], tickmode="array",
               tickvals=a_yticks, ticktext=a_ylabels, tickfont=tickfontA,
               ticks="outside", ticklen=10, tickwidth=3, tickcolor="#808080",
               showline=True, linecolor="#808080", linewidth=3,
               showgrid=True, gridcolor="#e4e4e4", gridwidth=3,
               zeroline=True, zerolinecolor="#7a7a7a", zerolinewidth=2,
               minor=dict(tick0=0, dtick=5, ticks="outside", ticklen=8, tickwidth=2,
                          tickcolor="#808080", showgrid=False),
               anchor="x", fixedrange=True),
    xaxis2=dict(domain=[px(1857), px(3860)], range=[-0.09, 0.15], tickmode="array",
                tickvals=b_xticks, ticktext=b_xlabels, tickfont=tickfontB,
                ticks="outside", ticklen=14, tickwidth=3, tickcolor="#808080",
                showline=True, linecolor="#8a8a8a", linewidth=4,
                showgrid=True, gridcolor="#dcdcdc", gridwidth=2,
                zeroline=True, zerolinecolor="#808080", zerolinewidth=2,
                minor=dict(tick0=0, dtick=0.025, ticks="outside", ticklen=12, tickwidth=2,
                           tickcolor="#808080", showgrid=False),
                anchor="y2", fixedrange=True),
    yaxis2=dict(domain=[py(1638), py(349)], range=[-0.09, 0.04], tickmode="array",
                tickvals=b_yticks, ticktext=b_ylabels, tickfont=tickfontB,
                ticks="outside", ticklen=12, tickwidth=3, tickcolor="#808080",
                showline=True, linecolor="#8a8a8a", linewidth=3,
                showgrid=True, gridcolor="#ebebeb", gridwidth=4,
                zeroline=True, zerolinecolor="#8a8a8a", zerolinewidth=4,
                minor=dict(tick0=0, dtick=0.01, ticks="outside", ticklen=8, tickwidth=2,
                           tickcolor="#808080", showgrid=False),
                anchor="x2", fixedrange=True),
)

ann = []
shapes = []

def text(x, y, s, size, family, weight="normal", angle=0, xanchor="center", color="black"):
    ann.append(dict(x=px(x), y=py(y), xref="paper", yref="paper", text=s, showarrow=False,
                    xanchor=xanchor, yanchor="middle", textangle=angle,
                    font=dict(family=family, size=size, color=color, weight=weight)))

def square(x0, y0, x1, y1, color):
    shapes.append(dict(type="rect", xref="paper", yref="paper", x0=px(x0), x1=px(x1),
                       y0=py(y1), y1=py(y0), fillcolor=color, line=dict(width=0)))

# titles
text(797, 101, "(A)", 64, "Liberation Serif", weight="bold")
text(2733, 101, "(B)", 64, "Liberation Serif", weight="bold")

# panel A texts
text(64, 946, "Orthogonal component", 60, "DejaVu Sans", weight="bold", angle=-90)
text(873, 1765, "Predictive component", 68, "Roboto", weight="bold")
text(858, 1864, "R2X = 19.9 % R2Y = 76.2 % Q2 = 72.1%", 56, "Roboto")

# panel A legend
square(213, 188, 288, 262, "#55a84f")
text(293, 225, "Insulin-sensitive", 37, "Roboto", xanchor="left")
square(875, 180, 950, 256, "#a01010")
text(959, 218, "Insulin-resistant", 37, "Roboto", xanchor="left")

# panel B texts
text(1682, 992, "Loading values from orthogonal component", 51, "DejaVu Sans", weight="bold", angle=-90)
text(2858, 1775, "Loading values from predictive component", 63, "Roboto", weight="bold")

# panel B legend
legB = [
    (1957, 239, "#808000", "Phosphatidylinositol"),
    (2582, 242, "#8c1a7a", "Phosphatidylcholine"),
    (3350, 238, "#a00000", "Plasmalogen"),
    (2582, 309, "#ffc000", "Phosphatidylethanolamine"),
    (3350, 307, "#008020", "Sphingomyelins"),
]
for x0, y0, col, label in legB:
    square(x0, y0, x0 + 50, y0 + 49, col)
    text(x0 + 60, y0 + 25, label, 53, "Roboto", weight="bold", xanchor="left")

fig.update_layout(annotations=ann, shapes=shapes)
fig.write_html("out.html")
